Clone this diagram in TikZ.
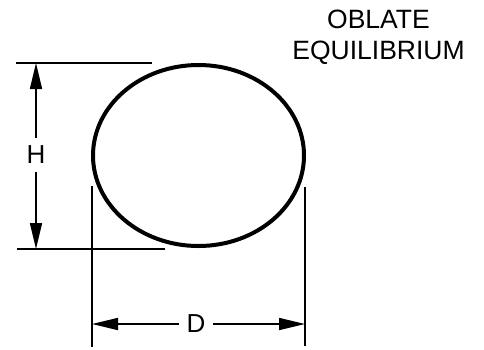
\documentclass[tikz,border=0pt]{standalone}
\usepackage{fontspec}
\setmainfont{Liberation Sans}
\usetikzlibrary{arrows.meta,shapes.geometric}
\begin{document}
\begin{tikzpicture}[x=1pt,y=-1pt,
  dimline/.style={line width=1.7pt},
  dimarrow/.style={line width=1.7pt,-{Triangle[length=26pt,width=12pt]}},
  outline/.style={line width=4pt},
  lbl/.style={font=\fontsize{26}{26}\selectfont,inner xsep=7pt,inner ysep=8pt},
  title/.style={font=\fontsize{26.5}{31}\selectfont,anchor=base,inner sep=0pt}]
\useasboundingbox (0,0) rectangle (484,349);
\node[outline,draw,ellipse,minimum width=211pt,minimum height=181pt,inner sep=0pt] (e) at (198.5,155.5) {};
% extension lines
\coordinate (t1) at (16,63); \coordinate (t2) at (152,63);
\coordinate (b1) at (17,249); \coordinate (b2) at (165,249);
\draw[dimline] (t1) -- (t2);
\draw[dimline] (b1) -- (b2);
\coordinate (l1) at (92,186); \coordinate (l2) at (92,347);
\coordinate (r1) at (305,187); \coordinate (r2) at (305,346);
\draw[dimline] (l1) -- (l2);
\draw[dimline] (r1) -- (r2);
% H dimension
\coordinate (ht) at (36,63); \coordinate (hb) at (36,249);
\node[lbl] (H) at (36,155) {H};
\draw[dimarrow] (H) -- (ht);
\draw[dimarrow] (H) -- (hb);
% D dimension
\coordinate (dl) at (92,324); \coordinate (dr) at (305,324);
\node[lbl] (D) at (196,324) {D};
\draw[dimarrow] (D) -- (dl);
\draw[dimarrow] (D) -- (dr);
% title
\node[title] (T1) at (378.5,28) {OBLATE};
\node[title] (T2) at (378.5,59) {EQUILIBRIUM};
\end{tikzpicture}
\end{document}
